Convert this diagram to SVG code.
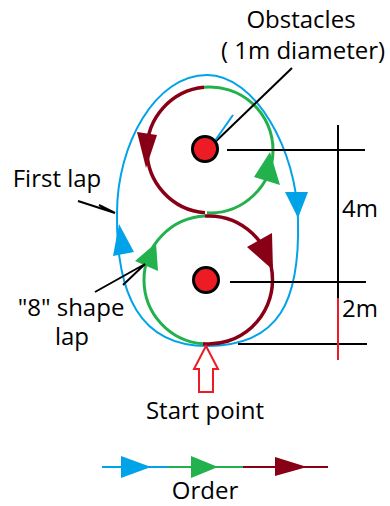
<svg xmlns="http://www.w3.org/2000/svg" width="390" height="506" viewBox="0 0 390 506">
<style>
text{font-family:"Open Sans","Noto Sans","Liberation Sans",sans-serif;font-size:24px;fill:#000}
.m{text-anchor:middle}
.blue{stroke:#00A2E8;fill:none;stroke-width:2}
.green{stroke:#22B14C;fill:none;stroke-width:3}
.dred{stroke:#880015;fill:none;stroke-width:3.5}
.fb{fill:#00A2E8}.fg{fill:#22B14C}.fr{fill:#880015}
.blk{stroke:#000;stroke-width:2;fill:none}
.obs{fill:#ED1C24;stroke:#000;stroke-width:3}
</style>
<rect width="390" height="506" fill="#fff"/>
<g id="connectors">
  <path class="blue" d="M207,346 C280,346 300,300 298,220 C297,150 255,75 207,75 C155,75 117,145 117,213 C116,295 140,346 207,346 Z"/>
  <path class="green" d="M207,212.8 A63 63 0 0 0 273,150 A63 63 0 0 0 204,87.3"/>
  <path class="dred" d="M204,87.3 A63 63 0 0 0 147,150 A63 63 0 0 0 205,212.8"/>
  <path class="green" d="M203,343.8 A64 64 0 0 1 144,280 A64 64 0 0 1 205,216.1"/>
  <path class="dred" d="M205,216.1 A64 64 0 0 1 272.5,280 A64 64 0 0 1 203,343.8"/>
  <polygon class="fb" points="285,192 308,192 298,218"/>
  <polygon class="fb" points="119,224 113,256 134,252"/>
  <polygon class="fg" points="270,152 254,177 280,185"/>
  <polygon class="fg" points="156,243 135,261 158,271"/>
  <polygon class="fr" points="137,132 157,135 146,168"/>
  <polygon class="fr" points="247,247 272,233 273,270"/>
  <line class="blk" x1="292" y1="68" x2="211" y2="146"/>
  <line x1="233" y1="115" x2="212" y2="145" stroke="#00A2E8" stroke-width="2"/>
  <polyline class="blk" points="78,201 115,213 99,205"/>
  <polyline class="blk" points="95,292 145,264 123,285"/>
</g>
<g id="obstacle-top"><circle class="obs" cx="205" cy="149" r="12.5"/></g>
<g id="obstacle-bottom"><circle class="obs" cx="206" cy="280" r="12.5"/></g>
<g id="dimensions">
  <line class="blk" x1="227" y1="150" x2="365" y2="150"/>
  <line class="blk" x1="230" y1="282" x2="366" y2="282"/>
  <line class="blk" x1="238" y1="344" x2="367" y2="344"/>
  <line class="blk" x1="338" y1="125" x2="338" y2="298"/>
  <line x1="338" y1="298" x2="338" y2="360" stroke="#ED1C24" stroke-width="2"/>
  <text x="342" y="217">4m</text>
  <text x="342" y="317">2m</text>
</g>
<g id="labels">
  <text class="m" x="301" y="28">Obstacles</text>
  <text class="m" x="303" y="59">( 1m diameter)</text>
  <text class="m" x="57" y="187">First lap</text>
  <text class="m" x="71" y="316" font-size="23">"8" shape</text>
  <text class="m" x="72" y="345" font-size="23">lap</text>
</g>
<g id="start">
  <polygon points="206,346 194,369 199,369 199,392 213,392 213,369 218,369" fill="#fff" stroke="#ED1C24" stroke-width="2"/>
  <text class="m" x="205" y="419">Start point</text>
</g>
<g id="legend">
  <line x1="102" y1="467" x2="168" y2="467" stroke="#00A2E8" stroke-width="2"/>
  <line x1="168" y1="467" x2="243" y2="467" stroke="#22B14C" stroke-width="2"/>
  <line x1="243" y1="467" x2="328" y2="467" stroke="#880015" stroke-width="2"/>
  <polygon class="fb" points="121,456 151,467 121,478"/>
  <polygon class="fg" points="191,456 218,467 191,478"/>
  <polygon class="fr" points="275,457 307,467 275,476"/>
  <text class="m" x="205" y="499">Order</text>
</g>
</svg>
